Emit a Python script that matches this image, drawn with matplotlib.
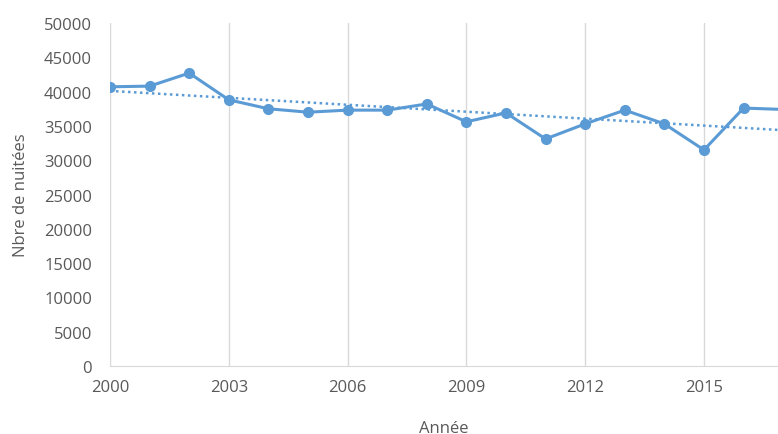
import matplotlib.pyplot as plt
import numpy as np

plt.rcParams['font.family'] = ['Open Sans', 'DejaVu Sans']

years = [2000, 2001, 2002, 2003, 2004, 2005, 2006, 2007, 2008,
         2009, 2010, 2011, 2012, 2013, 2014, 2015, 2016, 2017]
nuitees = [40700, 40800, 42700, 38800, 37500, 37000, 37300, 37300, 38200,
           35600, 36900, 33100, 35300, 37300, 35300, 31500, 37600, 37400]

blue = '#5B9BD5'
grey = '#595959'

fig = plt.figure(figsize=(7.78, 4.35), dpi=100)
ax = fig.add_axes([0.1414, 0.1563, 0.8586, 0.7885])

# linear trend (Excel style)
coef = np.polyfit(years, nuitees, 1)
tx = np.array([2000, 2018])
ax.plot(tx, np.polyval(coef, tx), color=blue, linestyle=(0, (1, 1.4)), linewidth=1.8, zorder=2)

ax.plot(years, nuitees, color=blue, linewidth=2.2, marker='o', markersize=7, zorder=3)

ax.set_xlim(2000, 2016.87)
ax.set_ylim(0, 50000)
ax.set_xticks([2000, 2003, 2006, 2009, 2012, 2015])
ax.set_yticks(range(0, 50001, 5000))
ax.grid(axis='x', color='#D9D9D9', linewidth=1)
ax.set_axisbelow(True)

for s in ['top', 'right', 'left']:
    ax.spines[s].set_visible(False)
ax.spines['bottom'].set_color('#D9D9D9')
ax.tick_params(length=0, colors=grey, labelsize=12)
ax.tick_params(axis='x', pad=9)
ax.tick_params(axis='y', pad=13)

ax.set_xlabel('Année', color=grey, fontsize=12, labelpad=18)
ax.set_ylabel('Nbre de nuitées', color=grey, fontsize=12, labelpad=11)

fig.savefig('out.png', dpi=100)
